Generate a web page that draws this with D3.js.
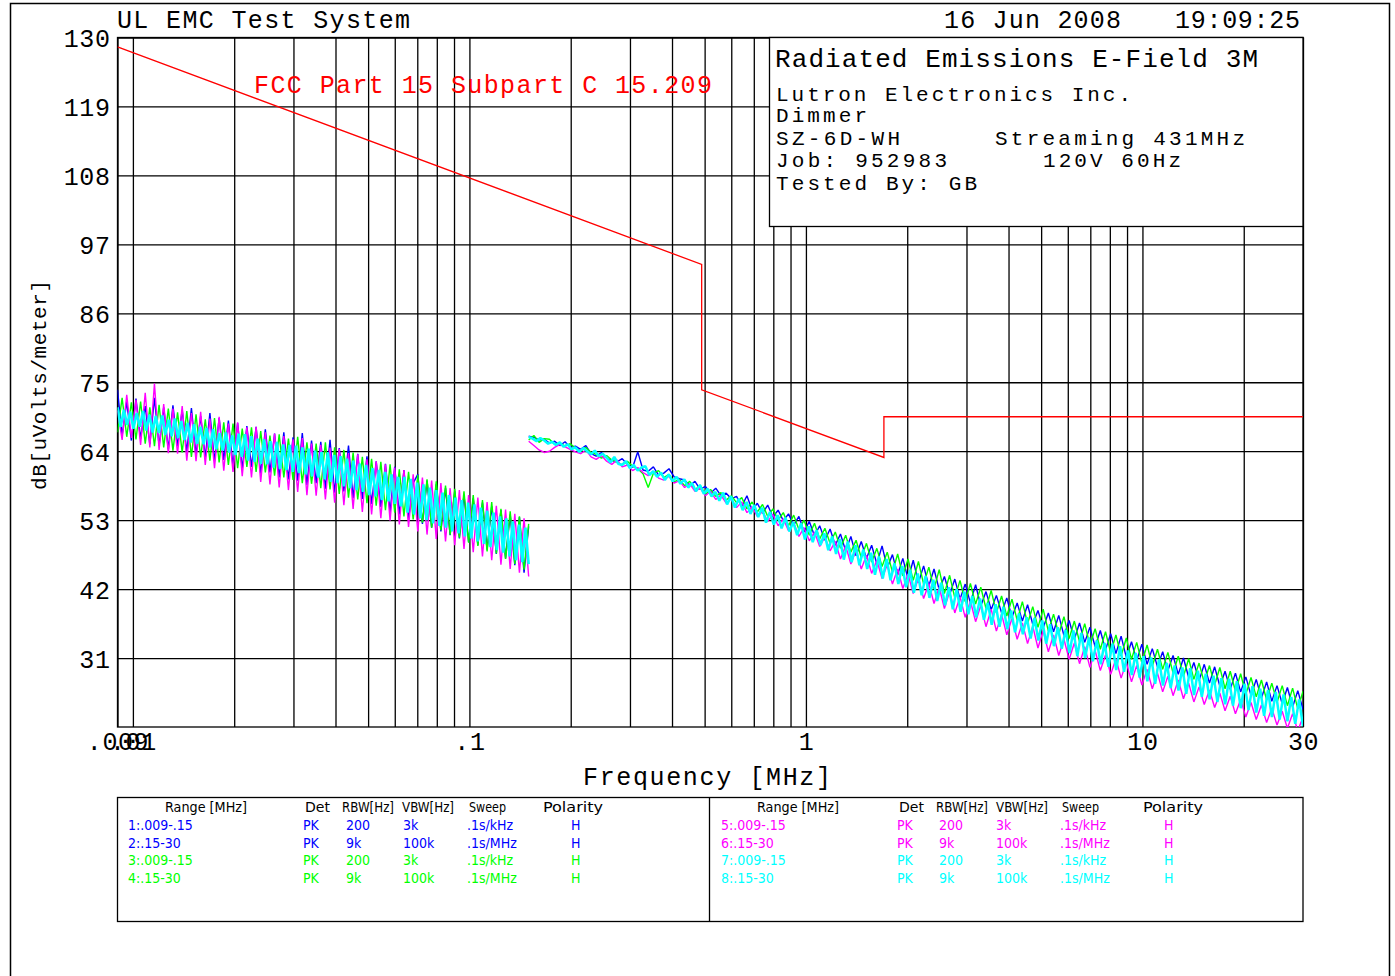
<!DOCTYPE html>
<html>
<head>
<meta charset="utf-8">
<script src="https://cdn.jsdelivr.net/npm/d3@7"></script>
<style>
body { margin: 0; background: #fff; }
svg { display: block; }
text { font-family: "Liberation Mono", "DejaVu Sans Mono", monospace; }
text.tbl { font-family: "Liberation Sans Narrow", "DejaVu Sans Condensed", "Liberation Sans", sans-serif; font-size: 14px; }
</style>
</head>
<body>
<div id="chart"></div>
<script>
// axis values
var yTicks = [31, 42, 53, 64, 75, 86, 97, 108, 119, 130];
var xTickValues = [0.009, 0.01, 0.1, 1, 10, 30];
var xTickText = [".009", ".01", ".1", "1", "10", "30"];

// FCC 15.209 limit (dBuV/m @ 3m)
var limitFreq = [0.009, 0.49, 0.49, 1.705, 1.705, 30];
var limitLevel = [128.5, 93.8, 73.8, 63.0, 69.5, 69.5];

// sweep ranges (MHz), points are log spaced over each range
var lowStart = 0.009, lowStop = 0.15;
var highStart = 0.15, highStop = 30;

// 1: blue .009-.15
var trace1 = [73.8,66.5,71.9,65.7,72.4,66.0,71.2,65.1,72.5,64.9,
71.0,64.3,71.3,64.8,70.6,63.9,70.9,63.4,69.6,63.0,
70.1,62.4,69.3,62.6,68.9,61.7,68.5,61.2,68.0,61.5,
67.9,60.4,67.5,60.6,66.8,59.8,67.0,59.5,66.2,59.3,
66.9,58.6,65.7,58.9,65.5,58.0,65.8,57.4,64.5,57.6,
64.9,56.5,63.6,56.4,63.2,55.6,62.4,55.1,62.0,54.3,
61.5,53.9,61.0,53.2,58.9,60.3,52.4,59.3,51.8,58.7,
51.2,58.1,50.6,57.6,50.1,57.0,49.5,56.5,49.0,55.8,
48.3,55.2,47.6,54.6,46.9,53.9,45.8,53.5,44.6,52.0];
// 2: blue .15-30
var trace2 = [66.4,66.2,65.8,65.9,65.3,65.6,64.9,65.5,64.6,64.8,
64.3,64.9,63.6,63.2,63.8,62.9,62.5,62.3,62.8,61.9,
61.4,63.9,61.0,60.8,61.5,60.2,60.5,61.2,59.9,59.6,
59.4,58.5,59.2,57.9,58.4,57.3,58.1,56.9,57.3,56.4,
56.8,55.2,56.9,54.6,55.7,54.1,55.4,53.5,54.6,52.9,
54.0,52.2,53.6,51.1,52.8,50.5,52.1,49.8,51.6,49.0,
50.8,48.1,50.4,47.3,49.6,46.9,49.0,46.0,48.9,45.4,
47.5,44.3,46.9,43.6,46.6,43.0,45.7,42.5,45.2,41.9,
44.0,41.1,43.6,40.4,42.8,39.8,42.7,39.3,41.6,38.7,
41.0,38.2,40.6,37.5,39.8,36.9,39.5,36.4,38.6,35.8,
38.2,35.2,37.8,34.6,37.0,34.0,36.6,33.5,35.9,32.8,
35.4,32.3,34.9,31.7,34.5,31.1,33.6,30.6,33.2,30.0,
32.5,29.6,32.0,29.0,31.4,28.4,31.0,27.9,30.3,27.4,
30.0,27.0,29.6,26.5,28.9,26.0,28.6,25.6,28.0,25.0,
27.6,24.6,27.2,24.1,26.6,23.7,26.3,23.2,25.8,22.8];
// 3: green .009-.15
var trace3 = [67.0,72.5,66.3,71.8,65.9,71.9,65.2,71.0,64.8,71.4,
64.6,70.8,64.1,70.2,63.8,70.4,63.1,69.9,63.0,69.1,
62.5,69.3,62.2,68.6,61.8,68.4,61.3,67.6,61.5,67.8,
60.7,67.2,60.6,66.5,60.1,66.7,59.8,66.0,59.4,66.3,
58.9,65.4,58.8,65.2,58.1,65.4,57.9,64.6,57.2,64.2,
56.6,63.8,56.3,63.1,55.7,62.8,55.3,62.3,54.6,61.9,
54.2,61.1,53.6,60.7,53.1,60.2,52.6,59.5,51.8,59.2,
51.4,58.5,50.7,58.0,50.2,57.6,49.4,57.0,48.9,56.2,
48.0,55.9,47.7,54.8,46.8,54.4,46.0,53.6,45.1,52.4];
// 4: green .15-30
var trace4 = [65.8,66.5,65.4,66.0,65.9,65.1,65.3,64.8,65.2,64.5,
64.0,64.6,63.8,63.5,62.9,63.3,62.6,62.2,61.8,62.4,
61.6,61.2,60.4,58.2,60.5,60.9,59.8,60.3,59.1,59.5,
58.5,59.2,57.8,58.6,57.1,57.9,56.8,57.4,56.2,56.9,
55.8,56.6,54.8,55.9,54.3,55.5,53.6,54.8,53.0,54.2,
52.1,53.8,51.5,53.0,50.6,52.5,50.0,51.7,49.3,51.1,
48.5,50.6,47.9,49.8,47.0,49.3,46.3,48.5,45.6,47.9,
44.7,47.6,44.1,46.8,43.4,46.4,42.8,45.5,42.0,45.1,
41.3,44.2,40.6,43.4,40.0,42.9,39.6,42.3,38.9,41.8,
38.2,40.9,37.7,40.4,37.0,40.0,36.5,39.2,35.9,38.8,
35.3,38.0,34.8,37.6,34.1,36.9,33.6,36.5,33.0,35.7,
32.4,35.2,31.8,34.7,31.3,34.2,30.8,33.5,30.2,33.1,
29.7,32.4,29.2,31.9,28.6,31.3,28.1,30.9,27.6,30.2,
27.1,29.8,26.7,29.5,26.1,28.9,25.7,28.5,25.2,27.9,
24.8,27.5,24.3,27.0,23.9,26.6,23.4,26.2,22.9,25.7];
// 5: magenta .009-.15
var trace5 = [70.5,65.8,73.0,66.1,72.2,65.0,73.3,64.6,74.8,64.2,
71.5,63.7,70.8,63.6,71.2,62.5,70.1,62.4,70.3,61.8,
69.2,61.3,69.5,60.9,68.4,60.7,68.6,60.0,67.8,59.8,
67.9,59.1,67.0,58.7,66.8,58.2,66.4,57.8,65.9,57.5,
66.1,57.0,65.2,56.9,65.0,56.3,64.6,55.8,64.4,55.4,
63.7,54.8,63.5,54.3,62.7,53.9,62.4,53.3,61.9,52.9,
61.4,52.3,61.0,51.9,60.3,51.2,59.8,50.7,59.3,50.0,
58.9,49.6,58.1,49.0,57.8,48.4,57.0,47.9,56.6,47.2,
55.9,46.6,55.3,45.9,54.7,45.2,54.0,44.6,53.3,44.0];
// 6: magenta .15-30
var trace6 = [65.6,64.9,64.2,63.8,64.0,64.6,65.1,64.7,64.3,63.9,
63.6,64.2,63.1,62.7,63.3,62.4,61.9,62.6,61.5,61.8,
60.9,61.4,60.6,60.1,60.8,59.7,59.4,60.0,58.9,59.3,
58.2,58.8,57.6,58.1,56.9,57.6,56.3,57.0,55.7,56.4,
55.0,55.9,54.2,55.1,53.6,54.4,52.8,53.9,52.1,53.2,
51.3,52.6,50.4,51.8,49.7,51.1,48.8,50.3,48.1,49.6,
46.8,48.9,46.0,48.2,45.2,47.4,44.5,46.6,43.7,45.9,
42.8,45.2,42.1,44.4,41.3,43.7,40.5,42.9,39.7,42.3,
38.9,41.6,38.2,40.8,37.5,40.1,36.8,39.4,36.0,38.8,
35.3,38.0,34.7,37.3,34.0,36.6,33.3,36.1,32.6,35.4,
32.0,34.7,31.4,34.0,30.8,33.4,30.1,32.8,29.5,32.2,
29.0,31.5,28.4,30.9,27.8,30.3,27.2,29.8,26.7,29.2,
26.1,28.6,25.6,28.1,25.0,27.5,24.5,27.0,24.0,26.4,
23.6,25.9,23.1,25.4,22.6,24.9,22.1,24.4,21.6,23.9,
21.2,23.5,20.7,23.0,20.3,22.5,19.8,22.1,19.4,21.6];
// 7: cyan .009-.15
var trace7 = [71.0,67.9,70.6,68.2,70.3,67.6,70.1,67.9,70.4,67.3,
69.8,67.0,69.6,66.9,69.7,66.6,69.0,66.4,69.2,66.1,
68.8,65.8,68.5,65.4,68.3,65.2,67.9,65.1,67.7,64.6,
67.5,64.3,66.9,64.1,67.0,63.8,66.5,63.4,66.8,63.1,
66.7,62.5,66.4,62.3,66.0,62.0,65.9,61.9,65.6,61.4,
65.5,61.2,65.1,61.0,65.0,60.7,64.9,60.5,64.6,60.3,
64.4,60.0,64.1,59.8,63.9,59.5,63.8,59.1,63.4,58.9,
63.2,58.4,62.8,58.1,62.5,57.8,62.0,57.5,61.8,57.0,
61.3,56.8,61.0,56.2,60.7,56.0,60.3,55.6,59.9,55.2,
59.9,54.2,59.6,53.9,59.0,53.3,58.7,53.0,58.2,52.5,
57.8,52.1,57.4,51.8,57.0,51.2,56.6,50.9,56.2,50.4,
55.8,50.1,55.5,49.6,55.0,49.2,54.5,48.7,54.2,48.2,
53.6,47.8,53.3,47.2,52.8,46.6,52.3,46.3,51.8,46.0];
// 8: cyan .15-30
var trace8 = [66.3,66.0,65.6,66.1,65.7,65.2,65.5,65.0,65.4,64.7,
65.1,64.3,64.6,63.9,64.5,64.0,63.5,64.1,63.2,63.6,
63.0,62.2,63.1,62.0,61.8,62.4,61.3,61.8,60.9,61.4,
61.6,60.2,60.8,59.9,60.6,59.4,60.3,59.2,59.9,58.8,
59.5,58.2,58.9,57.6,58.6,57.2,58.0,56.8,57.5,56.1,
57.4,55.5,56.8,55.0,56.4,54.6,55.9,54.0,55.4,53.5,
55.0,52.6,54.3,52.3,53.8,51.7,53.4,51.2,52.7,50.6,
52.5,49.9,52.0,49.5,51.4,49.0,50.9,48.2,50.4,47.6,
50.0,46.7,49.6,46.3,49.0,45.8,48.3,45.2,47.8,44.3,
47.2,43.7,46.8,43.4,46.1,42.8,45.7,42.3,45.1,41.4,
44.5,41.0,44.1,40.6,43.5,40.1,43.0,39.4,42.3,38.8,
42.0,38.4,41.6,38.0,40.9,37.5,40.5,37.1,39.8,36.3,
39.6,36.0,39.2,35.6,38.6,35.1,38.1,34.8,37.5,34.1,
37.4,33.8,37.0,33.3,36.4,32.9,35.9,32.5,35.5,31.8,
35.4,31.3,35.0,31.0,34.3,30.5,33.8,30.0,33.4,29.6,
33.3,29.1,32.9,28.8,32.2,28.3,31.8,27.9,31.3,27.3,
31.1,26.9,30.8,26.6,30.2,26.2,29.8,25.8,29.5,25.3,
29.4,25.1,29.0,24.8,28.5,24.4,28.2,24.0,27.8,23.6,
27.7,23.4,27.3,23.0,26.9,22.7,26.5,22.3,26.1,21.8,
25.9,21.6,25.6,21.2,25.2,20.9,24.8,20.5,24.4,20.1];

var traceColors = ["#0000ff", "#00ff00", "#ff00ff", "#00ffff"];

// legend table
var tableHead = ["Range [MHz]", "Det", "RBW[Hz]", "VBW[Hz]", "Sweep", "Polarity"];
var tableRows = [
  ["1:.009-.15", "PK", "200", "3k", ".1s/kHz", "H"],
  ["2:.15-30", "PK", "9k", "100k", ".1s/MHz", "H"],
  ["3:.009-.15", "PK", "200", "3k", ".1s/kHz", "H"],
  ["4:.15-30", "PK", "9k", "100k", ".1s/MHz", "H"],
  ["5:.009-.15", "PK", "200", "3k", ".1s/kHz", "H"],
  ["6:.15-30", "PK", "9k", "100k", ".1s/MHz", "H"],
  ["7:.009-.15", "PK", "200", "3k", ".1s/kHz", "H"],
  ["8:.15-30", "PK", "9k", "100k", ".1s/MHz", "H"]
];
var rowColors = ["#0000ff", "#0000ff", "#00ff00", "#00ff00", "#ff00ff", "#ff00ff", "#00ffff", "#00ffff"];

var infoLines = ["Lutron Electronics Inc.", "Dimmer", "SZ-6D-WH", "Job: 952983", "Tested By: GB"];

var svgWidth = 1395, svgHeight = 976;
var plotL = 117.5, plotR = 1303, plotT = 37.5, plotB = 727;

var svg = d3.select("#chart").append("svg")
  .attr("width", svgWidth)
  .attr("height", svgHeight);

var x = d3.scaleLog().domain([0.009, 30]).range([plotL, plotR]);
var y = d3.scaleLinear().domain([20, 130]).range([plotB, plotT]);

// page frame
svg.append("path")
  .attr("d", `M10.5,${svgHeight} V3.5 H1389.5 V${svgHeight}`)
  .attr("fill", "none").attr("stroke", "#000").attr("stroke-width", 1.5);

function text(str, x0, y0, size, w, color) {
  var t = svg.append("text")
    .attr("x", x0).attr("y", y0)
    .attr("font-size", size)
    .attr("fill", color || "#000")
    .text(str);
  if (w) t.attr("textLength", w).attr("lengthAdjust", "spacing");
  return t;
}

// grid
var gx = svg.append("g").attr("transform", `translate(0,${plotB})`)
  .call(d3.axisBottom(x).ticks(20).tickSize(-(plotB - plotT)).tickFormat(""));
var gy = svg.append("g").attr("transform", `translate(${plotL},0)`)
  .call(d3.axisLeft(y).tickValues(yTicks).tickSize(-(plotR - plotL)).tickFormat(""));
[gx, gy].forEach(function(g) {
  g.select(".domain").remove();
  g.selectAll("line").attr("stroke", "#000").attr("stroke-width", 1.3);
});

svg.append("rect")
  .attr("x", plotL).attr("y", plotT)
  .attr("width", plotR - plotL).attr("height", plotB - plotT)
  .attr("fill", "none").attr("stroke", "#000").attr("stroke-width", 1.3);

// tick labels
var yAxis = svg.append("g").attr("transform", `translate(${plotL},0)`)
  .call(d3.axisLeft(y).tickValues(yTicks).tickSize(0).tickPadding(7));
yAxis.select(".domain").remove();
yAxis.selectAll("text").attr("font-size", 25).attr("dy", "0.37em").attr("fill", "#000")
  .style("letter-spacing", "0.6px");

var xAxis = svg.append("g").attr("transform", `translate(0,${plotB})`)
  .call(d3.axisBottom(x).tickValues(xTickValues).tickSize(0).tickPadding(5)
    .tickFormat(function(d, i) { return xTickText[i]; }));
xAxis.select(".domain").remove();
xAxis.selectAll("text").attr("font-size", 25).attr("fill", "#000")
  .style("letter-spacing", "0.6px");

// traces
svg.append("clipPath").attr("id", "plotClip")
  .append("rect").attr("x", plotL).attr("y", plotT)
  .attr("width", plotR - plotL).attr("height", plotB - plotT);

function sweep(vals, f0, f1) {
  var n = vals.length;
  return vals.map(function(v, i) {
    return { f: f0 * Math.pow(f1 / f0, i / (n - 1)), v: v };
  });
}

var line = d3.line().x(d => x(d.f)).y(d => y(d.v));
var traces = [
  [trace1, lowStart, lowStop, 0], [trace2, highStart, highStop, 0],
  [trace3, lowStart, lowStop, 1], [trace4, highStart, highStop, 1],
  [trace5, lowStart, lowStop, 2], [trace6, highStart, highStop, 2],
  [trace7, lowStart, lowStop, 3], [trace8, highStart, highStop, 3]
];
var traceG = svg.append("g").attr("clip-path", "url(#plotClip)");
traces.forEach(function(t) {
  var low = t[1] == lowStart;
  traceG.append("path")
    .attr("d", line(sweep(t[0], t[1], t[2])))
    .attr("fill", "none")
    .attr("stroke", traceColors[t[3]])
    .attr("stroke-linejoin", "bevel")
    .attr("stroke-width", t[3] == 3 ? (low ? 2.6 : 2.5) : 1.4);
});

// limit line
traceG.append("path")
  .attr("d", line(limitFreq.map((f, i) => ({ f: f, v: limitLevel[i] }))))
  .attr("fill", "none").attr("stroke", "#ff0000").attr("stroke-width", 1.3);

text("FCC Part 15 Subpart C 15.209", 254, 93, 25, 458, "#ff0000");

// header
text("UL EMC Test System", 117, 28, 25, 293);
text("16 Jun 2008", 944, 28, 25, 177);
text("19:09:25", 1175, 28, 25, 125);

// info box
svg.append("rect")
  .attr("x", 769.5).attr("y", plotT)
  .attr("width", plotR - 769.5).attr("height", 189)
  .attr("fill", "#fff").attr("stroke", "#000").attr("stroke-width", 1.3);
text("Radiated Emissions E-Field 3M", 775, 67, 26, 483);
var infoY = [101, 122, 145, 167, 190];
var infoW = [355, 91, 124, 171, 201];
infoLines.forEach(function(s, i) { text(s, 776, infoY[i], 21, infoW[i]); });
text("Streaming 431MHz", 995, 145, 21, 250);
text("120V 60Hz", 1043, 167, 21, 138);

// axis titles
text("Frequency [MHz]", 583, 785, 25, 248);
svg.append("text")
  .attr("transform", "translate(46,385) rotate(-90)")
  .attr("text-anchor", "middle")
  .attr("font-size", 21)
  .attr("textLength", 210).attr("lengthAdjust", "spacing")
  .text("dB[uVolts/meter]");

// legend table
svg.append("rect")
  .attr("x", 117.5).attr("y", 797.5).attr("width", plotR - 117.5).attr("height", 124)
  .attr("fill", "none").attr("stroke", "#000").attr("stroke-width", 1.3);
svg.append("line")
  .attr("x1", 709.5).attr("x2", 709.5).attr("y1", 797.5).attr("y2", 921.5)
  .attr("stroke", "#000").attr("stroke-width", 1.3);

var headX = [[165, 305, 342, 402, 469, 543], [757, 899, 936, 996, 1062, 1143]];
var headW = [82, 25, 52, 52, 37, 60];
var cellX = [[128, 303, 346, 403, 467, 571], [721, 897, 939, 996, 1060, 1164]];
[0, 1].forEach(function(side) {
  tableHead.forEach(function(h, j) {
    svg.append("text").attr("class", "tbl")
      .attr("x", headX[side][j]).attr("y", 812).attr("fill", "#000")
      .attr("textLength", headW[j]).attr("lengthAdjust", "spacingAndGlyphs")
      .text(h);
  });
  tableRows.slice(side * 4, side * 4 + 4).forEach(function(row, r) {
    row.forEach(function(c, j) {
      svg.append("text").attr("class", "tbl")
        .attr("x", cellX[side][j]).attr("y", 830 + r * 17.6)
        .attr("fill", rowColors[side * 4 + r]).text(c);
    });
  });
});
</script>
</body>
</html>
